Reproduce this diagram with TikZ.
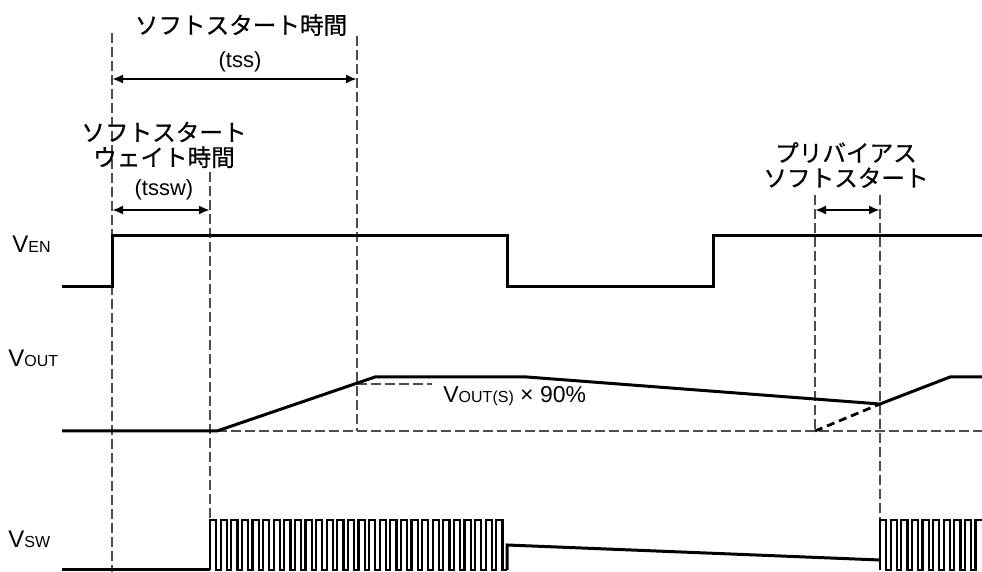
\documentclass[tikz,border=0pt]{standalone}
\usepackage{fontspec}
\setmainfont{Liberation Sans}
\newfontfamily\jpfont[FakeBold = 0.6]{Noto Sans CJK JP}
\usetikzlibrary{
    arrows.meta,
    calc
}
\tikzset {
    signal/.style = {line width = 1.5pt, line join = miter},
    switching/.style = {line width = 1.1pt},
    guide/.style = {draw = black!70, line width = 0.6pt, dash pattern = on 5pt off 2pt},
    ramp guess/.style = {line width = 1.4pt, dash pattern = on 4pt off 2.5pt},
    dim arrow/.style = {
        line width = 1.3pt,
        arrows = {Latex[length = 5.5pt, width = 4.5pt]-Latex[length = 5.5pt, width = 4.5pt]}
    },
    name label/.style = {anchor = base west, inner sep = 0pt, font = \fontsize{12}{12}\selectfont},
    jp label/.style = {align = center, inner sep = 0pt, font = \jpfont\fontsize{11.8}{12.5}\selectfont},
    time label/.style = {inner sep = 0pt, font = \fontsize{11}{11}\selectfont}
}
\newcommand{\sigsub}[1]{{\fontsize{8}{8}\selectfont #1}}

\begin{document}
\begin{tikzpicture}[x = 0.5pt, y = -0.5pt]
    \useasboundingbox (0, 0) rectangle (982, 572);
    % time markers
    \coordinate (tss start) at (112, 79);
    \coordinate (tss end) at (357, 79);
    \coordinate (tssw start) at (112, 210);
    \coordinate (tssw end) at (210, 210);
    \coordinate (pre start) at (815, 210);
    \coordinate (pre end) at (880, 210);
    % guides
    \draw [guide] (112, 33) -- (112, 572);
    \draw [guide] (210, 172) -- (210, 520);
    \draw [guide] (357, 36) -- (357, 431);
    \draw [guide] (815, 195) -- (815, 431);
    \draw [guide] (880, 195) -- (880, 520);
    \draw [guide] (217, 431) -- (982, 431);
    \draw [guide] (357, 384) -- (432, 384);
    % V_EN
    \draw [signal] (62, 287) -- (112, 287) -- (112, 236) -- (507, 236)
        -- (507, 287) -- (713, 287) -- (713, 236) -- (982, 236);
    % V_OUT
    \draw [signal] (62, 431) -- (217, 431) -- (375, 377) -- (527, 377)
        -- (880, 404) -- (950, 377) -- (982, 377);
    \draw [ramp guess] (815, 431) -- (880, 404);
    % V_SW
    \draw [signal] (62, 570) -- (210, 570);
    \draw [switching] (210, 570)
        \foreach \i in {1, ..., 28} { -- ++(0, -50) -- ++(6.2, 0) -- ++(0, 50) -- ++(4.4, 0) };
    \draw [signal] (507, 570) -- (507, 545) -- (880, 560);
    \draw [switching] (880, 570) -- (880, 520)
        \foreach \i in {1, ..., 9} { -- ++(6.2, 0) -- ++(0, 50) -- ++(4.4, 0) -- ++(0, -50) }
        -- (982, 520);
    % arrows
    \draw [dim arrow] (tss start) -- (tss end);
    \draw [dim arrow] (tssw start) -- (tssw end);
    \draw [dim arrow] (pre start) -- (pre end);
    % labels
    \node (en label) [name label] at (12, 253) {V\sigsub{EN}};
    \node (out label) [name label] at (8, 367) {V\sigsub{OUT}};
    \node (sw label) [name label] at (8, 548) {V\sigsub{SW}};
    \node (tss title) [jp label] at (241, 25) {ソフトスタート時間};
    \node (tss label) [time label] at (240, 62) {(tss)};
    \node (tssw title) [jp label] at (164, 145) {ソフトスタート\\ウェイト時間};
    \node (tssw label) [time label] at (164, 190) {(tssw)};
    \node (pre title) [jp label] at (846, 165) {プリバイアス\\ソフトスタート};
    \node (pct label) [anchor = base west, inner sep = 0pt, font = \fontsize{11.5}{11.5}\selectfont]
        at (443, 403) {V\sigsub{OUT(S)} × 90\%};
\end{tikzpicture}
\end{document}
